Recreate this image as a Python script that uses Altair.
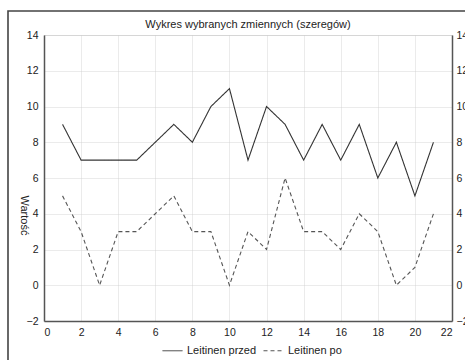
import altair as alt
import pandas as pd

x_vals = list(range(1, 22))
przed = [9, 7, 7, 7, 7, 8, 9, 8, 10, 11, 7, 10, 9, 7, 9, 7, 9, 6, 8, 5, 8]
po = [5, 3, 0, 3, 3, 4, 5, 3, 3, 0, 3, 2, 6, 3, 3, 2, 4, 3, 0, 1, 4]
series_names = ["Leitinen przed", "Leitinen po"]
x_ticks = list(range(0, 23, 2))
y_ticks = list(range(-2, 15, 2))
title_text = "Wykres wybranych zmiennych (szeregów)"
y_title = "Wartość"

df = pd.DataFrame({
    "x": x_vals * 2,
    "y": przed + po,
    "s": [series_names[0]] * len(przed) + [series_names[1]] * len(po),
})

FONT = "Liberation Sans"
W, H = 408, 286

xs = alt.Scale(domain=[0, 22], nice=False, zero=False)
ys = alt.Scale(domain=[-2, 14], nice=False, zero=False)

axis_common = dict(
    labelFont=FONT, labelFontSize=10.5, labelColor="#222222",
    domain=True, domainColor="#555555", domainWidth=1.5, ticks=False,
    grid=True, gridColor="#cccccc", gridDash=[1, 1], gridWidth=0.8,
)

x_axis = alt.Axis(values=x_ticks, title=None, labelPadding=6, **axis_common)

legend = alt.Legend(
    orient="none", legendX=118, legendY=305, direction="horizontal",
    title=None, symbolType="stroke", symbolSize=400, symbolStrokeWidth=1,
    labelFont=FONT, labelFontSize=11, labelColor="#222222",
    columnPadding=4, symbolOffset=0, labelOffset=4,
)

lines = alt.Chart(df).mark_line(strokeWidth=1.1).encode(
    x=alt.X("x:Q", scale=xs, axis=x_axis),
    y=alt.Y("y:Q", scale=ys, axis=alt.Axis(
        values=y_ticks, title=y_title, titleAngle=90, titleX=-21, titleY=180,
        titleAlign="center", titleBaseline="middle", titleFont=FONT,
        titleFontSize=11, titleFontWeight="normal", titleColor="#222222",
        labelPadding=6, **axis_common)),
    color=alt.Color("s:N", scale=alt.Scale(domain=series_names, range=["#333333", "#555555"]), legend=legend),
    strokeDash=alt.StrokeDash("s:N", scale=alt.Scale(domain=series_names, range=[[1, 0], [4, 3]]), legend=legend),
)

right = alt.Chart(df).mark_line(opacity=0).encode(
    x=alt.X("x:Q", scale=xs, axis=x_axis),
    y=alt.Y("y:Q", scale=ys, axis=alt.Axis(
        orient="right", values=y_ticks, title=None, labelFont=FONT,
        labelFontSize=10.5, labelColor="#222222", domain=True,
        domainColor="#555555", domainWidth=1.5, ticks=False,
        grid=False, labelPadding=4)),
)

frame_df = pd.DataFrame({"a": [0]})
frame = alt.Chart(frame_df).mark_rect(fill="transparent", stroke="#444444", strokeWidth=1.6).encode(
    x=alt.value(-36), x2=alt.value(700), y=alt.value(-24), y2=alt.value(600))

chart = alt.layer(lines, right, frame).resolve_axis(y="independent").properties(
    width=W, height=H,
    autosize=alt.AutoSizeParams(type="none"),
    padding={"left": 44, "top": 35, "right": 13, "bottom": 39},
    title=alt.TitleParams(title_text, font=FONT, fontSize=11, fontWeight="normal",
                          color="#222222", anchor="middle", offset=-20, frame="group"),
).configure_view(stroke="#555555", strokeWidth=1.2).configure(background="white")

chart.save("out.html", embed_options={"renderer": "svg", "actions": False})
